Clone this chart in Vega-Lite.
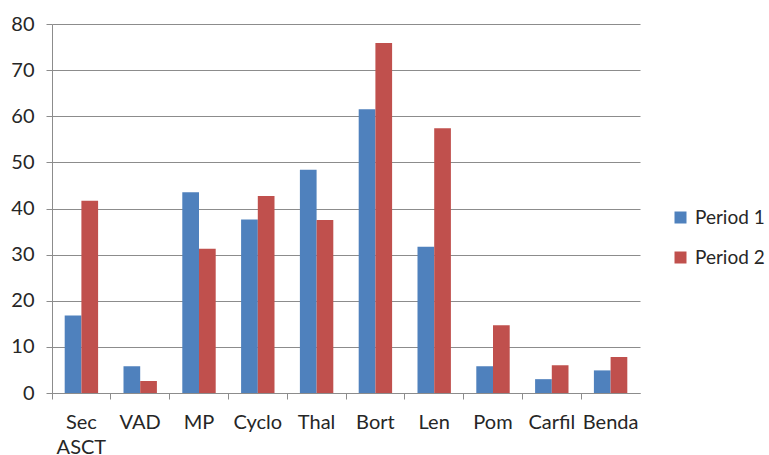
{
  "$schema": "https://vega.github.io/schema/vega-lite/v6.json",
  "autosize": "none",
  "width": 588,
  "height": 369,
  "padding": {"left": 52, "top": 24, "right": 129, "bottom": 62},
  "background": "white",
  "config": {
    "font": "Lato",
    "view": {"stroke": null}
  },
  "data": {
    "values": [
      {"drug": "Sec ASCT", "period": "Period 1", "value": 16.8},
      {"drug": "Sec ASCT", "period": "Period 2", "value": 41.7},
      {"drug": "VAD", "period": "Period 1", "value": 5.8},
      {"drug": "VAD", "period": "Period 2", "value": 2.6},
      {"drug": "MP", "period": "Period 1", "value": 43.5},
      {"drug": "MP", "period": "Period 2", "value": 31.3},
      {"drug": "Cyclo", "period": "Period 1", "value": 37.6},
      {"drug": "Cyclo", "period": "Period 2", "value": 42.7},
      {"drug": "Thal", "period": "Period 1", "value": 48.4},
      {"drug": "Thal", "period": "Period 2", "value": 37.5},
      {"drug": "Bort", "period": "Period 1", "value": 61.5},
      {"drug": "Bort", "period": "Period 2", "value": 75.9},
      {"drug": "Len", "period": "Period 1", "value": 31.7},
      {"drug": "Len", "period": "Period 2", "value": 57.4},
      {"drug": "Pom", "period": "Period 1", "value": 5.8},
      {"drug": "Pom", "period": "Period 2", "value": 14.7},
      {"drug": "Carfil", "period": "Period 1", "value": 3.0},
      {"drug": "Carfil", "period": "Period 2", "value": 6.0},
      {"drug": "Benda", "period": "Period 1", "value": 4.9},
      {"drug": "Benda", "period": "Period 2", "value": 7.8}
    ]
  },
  "mark": {"type": "bar"},
  "encoding": {
    "x": {
      "field": "drug",
      "type": "nominal",
      "sort": null,
      "scale": {"paddingInner": 0, "paddingOuter": 0},
      "axis": {
        "title": null,
        "labelAngle": 0,
        "bandPosition": 0,
        "labelFontSize": 20,
        "labelColor": "#262626",
        "labelPadding": 13,
        "labelLineHeight": 25,
        "labelExpr": "datum.label == 'Sec ASCT' ? ['Sec', 'ASCT'] : datum.label",
        "domainColor": "#8c8c8c",
        "tickColor": "#8c8c8c",
        "tickSize": 6,
        "grid": false
      }
    },
    "xOffset": {
      "field": "period",
      "type": "nominal",
      "scale": {"paddingInner": 0, "paddingOuter": 0.76}
    },
    "y": {
      "field": "value",
      "type": "quantitative",
      "scale": {"domain": [0, 80], "nice": false},
      "axis": {
        "title": null,
        "values": [0, 10, 20, 30, 40, 50, 60, 70, 80],
        "labelFontSize": 20,
        "labelColor": "#262626",
        "labelPadding": 12,
        "domainColor": "#8c8c8c",
        "tickColor": "#8c8c8c",
        "tickSize": 6,
        "gridColor": "#8c8c8c",
        "gridWidth": 1.2
      }
    },
    "color": {
      "field": "period",
      "type": "nominal",
      "scale": {"domain": ["Period 1", "Period 2"], "range": ["#4F81BD", "#C0504D"]},
      "legend": {
        "title": null,
        "orient": "none",
        "legendX": 619,
        "legendY": 184,
        "padding": 0,
        "symbolType": "square",
        "symbolSize": 144,
        "symbolStrokeWidth": 0,
        "labelFontSize": 19,
        "labelColor": "#262626",
        "rowPadding": 20,
        "labelOffset": 5
      }
    }
  }
}
